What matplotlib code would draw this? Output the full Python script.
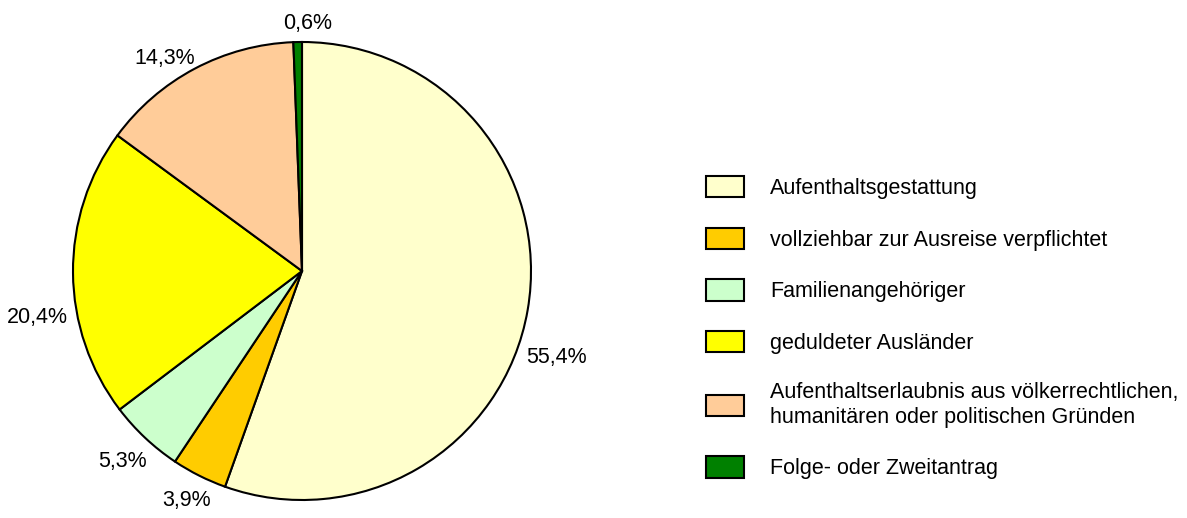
import numpy as np
import matplotlib
matplotlib.use("Agg")
import matplotlib.pyplot as plt

plt.rcParams['font.family'] = ['Liberation Sans', 'DejaVu Sans']

# ---------------- data ----------------
kategorien = [
    "Aufenthaltsgestattung",
    "vollziehbar zur Ausreise verpflichtet",
    "Familienangehöriger",
    "geduldeter Ausländer",
    "Aufenthaltserlaubnis aus völkerrechtlichen,\nhumanitären oder politischen Gründen",
    "Folge- oder Zweitantrag",
]
anteile = [55.4, 3.9, 5.3, 20.4, 14.3, 0.6]
farben = ["#FFFFCC", "#FFCC00", "#CCFFCC", "#FFFF00", "#FFCC99", "#008000"]

FS = 15.5
# label placement: angular nudge (deg) and pixel gap from the rim per label,
# to follow the original's best-fit placement
NUDGE = [-9, 0, 0, 9.5, 5, -2.5]
GAPS = [8, 8, 8, 8, -1, 7]

# ---------------- figure ----------------
fig = plt.figure(figsize=(11.87, 5.18), dpi=100)
ax = fig.add_axes([73 / 1187, 18 / 518, 458 / 1187, 458 / 518])

wedges, _ = ax.pie(
    anteile,
    colors=farben,
    startangle=90,
    counterclock=False,
    radius=1.0,
    wedgeprops=dict(edgecolor="black", linewidth=1.5),
)
ax.set_xlim(-1, 1)
ax.set_ylim(-1, 1)
ax.set_aspect("equal")
ax.axis("off")

# percent labels outside the slices
renderer = fig.canvas.get_renderer()
for w, wert, nd, gap in zip(wedges, anteile, NUDGE, GAPS):
    ang = np.deg2rad((w.theta1 + w.theta2) / 2 + nd)
    c, s = np.cos(ang), np.sin(ang)
    t = ax.annotate(f"{wert:.1f}%".replace(".", ","),
                    xy=(c, s), xytext=(0, 0), textcoords="offset pixels",
                    ha="center", va="center", fontsize=FS,
                    annotation_clip=False)
    bb = t.get_window_extent(renderer)
    off = gap + bb.width / 2 * abs(c) + bb.height / 2 * abs(s)
    t.set_position((off * c, off * s))

leg = fig.legend(
    wedges, kategorien,
    loc="upper left",
    bbox_to_anchor=(706 / 1187, 1 - 176 / 518),
    frameon=False,
    fontsize=FS,
    handlelength=1.77,
    handleheight=1.15,
    handletextpad=1.21,
    labelspacing=1.33,
    borderpad=0,
    borderaxespad=0,
)
for h in leg.legend_handles:
    h.set_edgecolor("black")
    h.set_linewidth(1.5)

fig.savefig("out.png", dpi=100)
